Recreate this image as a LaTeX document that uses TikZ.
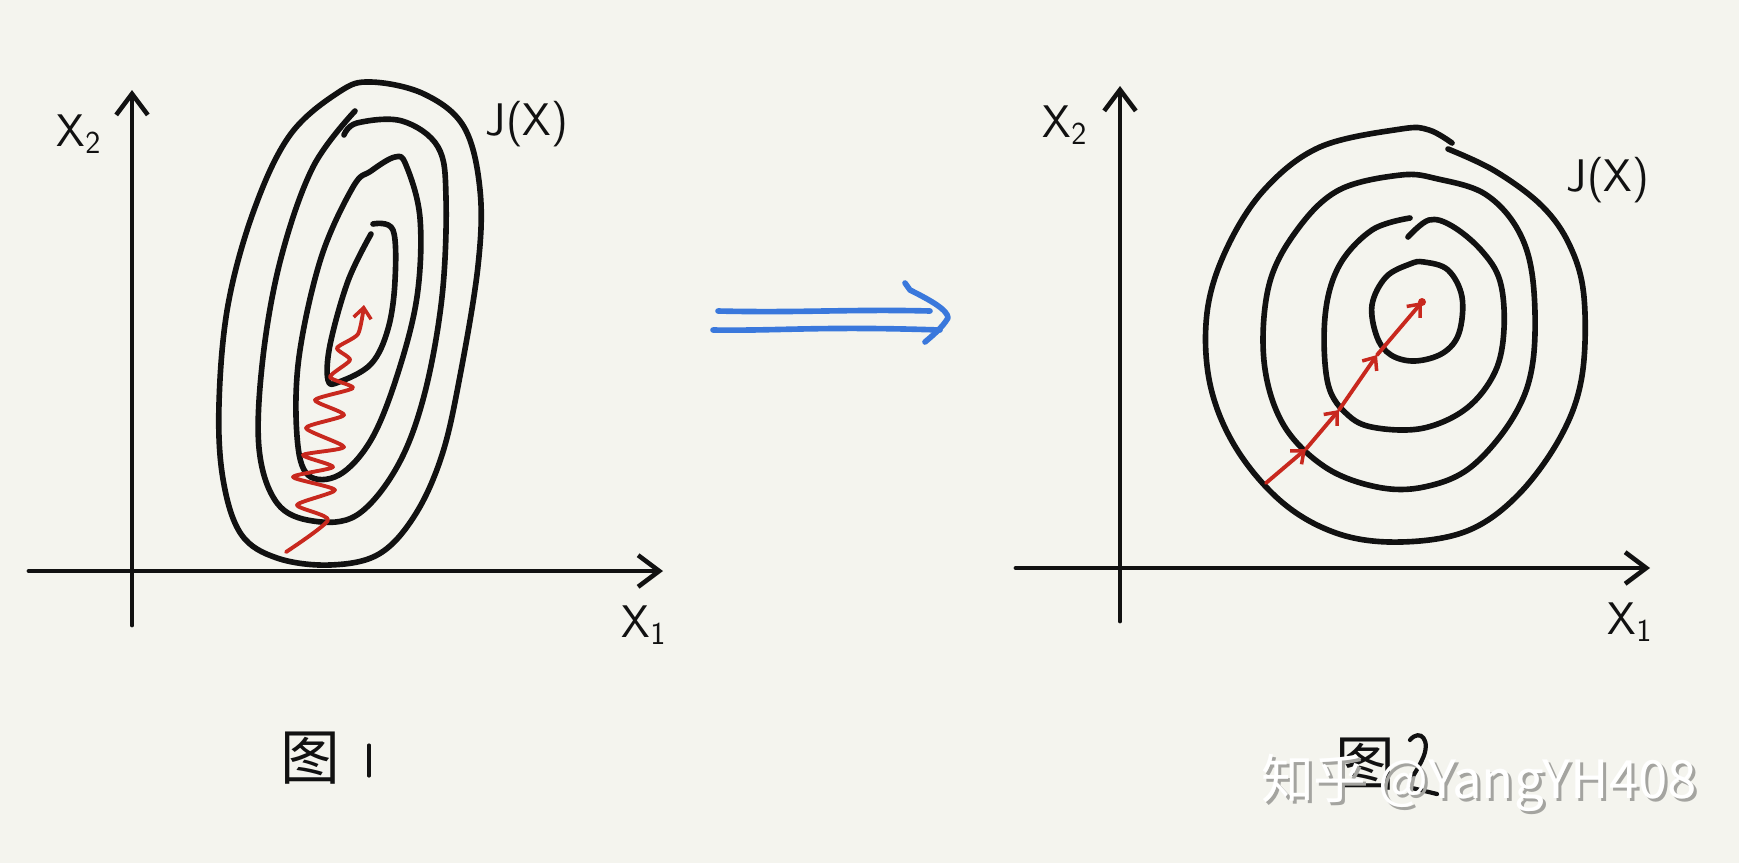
\documentclass[tikz,border=0pt]{standalone}
\usepackage{fontspec}
\usepackage{tikz}
\usetikzlibrary{arrows.meta}
\usetikzlibrary{calc}
\newfontfamily\cjk{Noto Sans CJK SC}
\definecolor{paper}{HTML}{F4F4EE}
\definecolor{pen}{HTML}{111111}
\definecolor{redpen}{HTML}{C8281E}
\definecolor{bluepen}{HTML}{3A78DC}
\definecolor{markgray}{HTML}{A4A4A0}

\begin{document}
\begin{tikzpicture}[x=0.02cm,y=-0.02cm,line cap=round,line join=round,
  axis line/.style={draw=pen,line width=2.8pt,-{Straight Barb[length=12pt,width=18pt,line width=2.6pt]}},
  level line/.style={draw=pen,line width=3.2pt},
  red step/.style={draw=redpen,line width=2.2pt,-{Straight Barb[length=6pt,width=10pt,line width=2pt]}},
  blue line/.style={draw=bluepen,line width=3.2pt},
  axis label/.style={font=\sffamily\fontsize{26}{26}\selectfont,text=pen,inner sep=0pt},
  fig label/.style={font=\cjk\fontsize{34}{34}\selectfont,text=pen,inner sep=0pt},
  mark text/.style={font=\cjk\fontsize{30}{30}\selectfont,inner sep=0pt}]

\fill[paper] (0,0) rectangle (1739,863);
\useasboundingbox (0,0) rectangle (1739,863);

% figure 1
\coordinate (x1l) at (29,571);
\coordinate (x1r) at (663,571);
\coordinate (y1b) at (132,625);
\coordinate (y1t) at (132,90);
\draw[axis line] (x1l) -- (x1r);
\draw[axis line] (y1b) -- (y1t);

\node[axis label] (lx2) at (79,134) {X\textsubscript{2}};
\node[axis label] (lx1) at (644,625) {X\textsubscript{1}};
\node[axis label] (lj) at (527,124) {J(X)};

\draw[level line] plot[smooth cycle,tension=0.6] coordinates {
  (339,92) (371,82) (424,94) (464,127) (480,190) (478,266) (460,376)
  (442,455) (415,515) (379,554) (330,565) (277,558) (241,534) (223,479)
  (219,404) (228,305) (254,210) (290,135)};
\draw[level line] plot[smooth,tension=0.6] coordinates {
  (344,135) (357,123) (402,121) (438,147) (446,198) (442,297) (424,396)
  (397,467) (357,515) (313,521) (277,503) (259,448) (263,357) (281,258)
  (313,167) (355,111)};
\draw[level line] plot[smooth cycle,tension=0.6] coordinates {
  (353,187) (371,171) (395,157) (406,165) (420,218) (417,297) (397,376)
  (371,440) (339,475) (308,475) (297,436) (299,357) (321,258)};
\draw[level line] plot[smooth,tension=0.6] coordinates {
  (373,224) (393,230) (395,281) (388,329) (371,364) (339,382) (328,380)
  (330,345) (348,281) (371,234)};

\draw[red step] plot[smooth,tension=0.4] coordinates {
  (286,552) (328,520) (297,505) (335,490) (293,477) (333,467) (303,455)
  (344,447) (306,428) (344,415) (315,400) (353,388) (330,377) (350,360)
  (337,348) (358,334) (364,305)};

\node[fig label] (f1) at (310,758) {图};
\draw[pen,line width=1.8pt] (369,745) -- (369,776);

% arrow between
\draw[blue line] (718,311) .. controls (800,313) and (850,309) .. (930,311);
\draw[blue line] (713,330) .. controls (780,331) and (820,326) .. (940,330);
\draw[blue line] (905,283) -- (910,290) .. controls (930,300) and (948,310) .. (948,318)
  .. controls (942,328) and (932,336) .. (925,342);

% figure 2
\coordinate (x2l) at (1016,568);
\coordinate (x2r) at (1650,568);
\coordinate (y2b) at (1120,621);
\coordinate (y2t) at (1120,86);
\draw[axis line] (x2l) -- (x2r);
\draw[axis line] (y2b) -- (y2t);

\node[axis label] (rx2) at (1065,125) {X\textsubscript{2}};
\node[axis label] (rx1) at (1630,622) {X\textsubscript{1}};
\node[axis label] (rj) at (1608,180) {J(X)};

\draw[level line] plot[smooth,tension=0.6] coordinates {
  (1448,149) (1495,171) (1542,206) (1570,246) (1584,297) (1582,376)
  (1561,436) (1518,495) (1467,531) (1401,542) (1339,534) (1283,503)
  (1236,448) (1210,384) (1207,313) (1226,250) (1264,190) (1320,147)
  (1401,129) (1429,130) (1452,143)};
\draw[level line] plot[smooth cycle,tension=0.6] coordinates {
  (1401,175) (1438,179) (1485,194) (1518,230) (1533,281) (1533,361)
  (1514,416) (1471,467) (1424,487) (1377,487) (1325,467) (1283,424)
  (1264,361) (1269,285) (1297,230) (1339,190)};
\draw[level line] plot[smooth,tension=0.6] coordinates {
  (1408,237) (1429,220) (1452,226) (1481,250) (1500,281) (1504,329)
  (1495,372) (1467,408) (1424,428) (1377,428) (1349,416) (1328,384)
  (1325,317) (1339,266) (1372,230) (1410,218)};
\draw[level line] plot[smooth cycle,tension=0.6] coordinates {
  (1424,262) (1448,270) (1462,297) (1459,333) (1443,353) (1415,361)
  (1391,355) (1377,337) (1372,305) (1386,277) (1410,264)};

\coordinate (s0) at (1266,483);
\coordinate (s1) at (1306,449);
\coordinate (s2) at (1339,410);
\coordinate (s3) at (1377,355);
\coordinate (s4) at (1422,302);
\foreach \a/\b in {s0/s1,s1/s2,s2/s3,s3/s4}{
  \draw[red step] (\a) -- (\b);
}
\fill[redpen] (s4) circle (4);

\node[fig label] (f2) at (1365,764) {图};
\draw[pen,line width=2.4pt] (1410,740) .. controls (1420,728) and (1432,740) .. (1422,760)
  .. controls (1415,775) and (1405,785) .. (1412,788) -- (1437,794);

% watermark
\node[mark text,text=markgray] (wm0) at (1482,786) {知乎 @YangYH408};
\node[mark text,text=white] (wm) at (1479,783) {知乎 @YangYH408};

\end{tikzpicture}
\end{document}
